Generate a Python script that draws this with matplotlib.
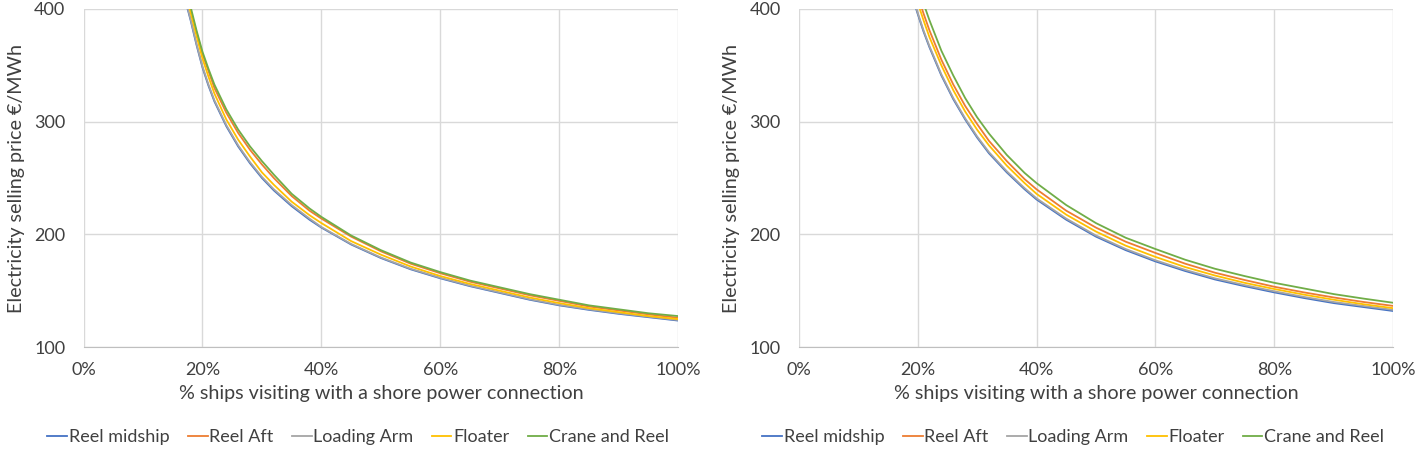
import matplotlib.pyplot as plt
from matplotlib.ticker import PercentFormatter

plt.rcParams['font.family'] = ['Lato', 'DejaVu Sans']

# % ships visiting with a shore power connection
share = [16, 17, 18, 19, 20, 21, 22, 24, 26, 28, 30, 32, 35, 38, 40,
         45, 50, 55, 60, 65, 70, 75, 80, 85, 90, 95, 100]

series_names = ['Reel midship', 'Reel Aft', 'Loading Arm', 'Floater', 'Crane and Reel']
colors = ['#4472C4', '#ED7D31', '#A5A5A5', '#FFC000', '#70AD47']

# left panel, electricity selling price EUR/MWh
left_midship = [432, 410, 390, 368, 348, 332, 318, 296, 278, 263, 250, 239, 225, 213, 206,
                191, 179, 169, 161, 154, 148, 142, 137, 133, 129.5, 126.5, 123.5]
left_aft = [443, 421, 399, 379, 360, 345, 330, 308, 290, 275, 262, 250, 234, 221, 214,
            198, 185, 174, 165.5, 158, 152, 146, 141, 136, 132.5, 129, 126]
left_arm = [433, 411, 391, 369, 349, 333, 319, 297, 279, 264, 251, 240, 226, 214, 206.5,
            191.5, 179.5, 169.5, 161.5, 154.5, 148.5, 142.5, 137.5, 133.5, 130, 127, 124]
left_floater = [440, 418, 397, 376, 356, 340, 325, 302, 284, 269, 255, 244, 229, 217, 210,
                194, 182, 171.5, 163, 156, 150, 144, 139, 134.5, 131, 127.5, 124.8]
left_crane = [446, 424, 402, 381, 362, 347, 333, 311, 293, 278, 265, 253, 236, 223, 215.5,
              199, 186, 175, 166.5, 159, 153, 147, 142, 137, 133.5, 130, 127.5]

# right panel
right_midship = [478, 454, 433, 413, 396, 380, 366, 341, 320, 302, 286, 272, 255, 240, 231,
                 213, 198, 186, 176, 167.5, 160, 154, 148.5, 143.5, 139, 135.5, 132]
right_aft = [499, 473, 451, 431, 412, 396, 381, 355, 333, 314, 298, 283, 265, 249, 240,
             221, 206, 193.5, 183.5, 174, 166, 159.5, 153.5, 148.5, 144, 140, 136.5]
right_arm = [479, 455, 434, 414, 397, 381, 367, 342, 321, 303, 287, 273, 256, 241, 232,
             214, 199, 187, 177, 168.5, 161, 155, 149.5, 144.5, 140, 136.5, 133]
right_floater = [491, 466, 444, 424, 406, 390, 375, 350, 328, 309, 293, 279, 261, 245.5, 236,
                 217.5, 202.5, 190, 180, 171, 163.5, 157, 151.5, 146.5, 142, 138, 134.5]
right_crane = [510, 484, 461, 441, 422, 405, 390, 363, 341, 321, 304, 289.5, 270.5, 254.5, 245.5,
               226, 210, 197, 187, 177.5, 169.5, 163, 157, 152, 147, 143, 139.3]

panels = [[left_midship, left_aft, left_arm, left_floater, left_crane],
          [right_midship, right_aft, right_arm, right_floater, right_crane]]

fig = plt.figure(figsize=(14.16, 4.49), dpi=100)
axes = [fig.add_axes([0.059, 0.227, 0.420, 0.753]),
        fig.add_axes([0.564, 0.227, 0.420, 0.753])]

for ax, data in zip(axes, panels):
    for name, vals, c in zip(series_names, data, colors):
        ax.plot(share, vals, color=c, lw=1.3, label=name)
    ax.set_xlim(0, 100)
    ax.set_ylim(100, 400)
    ax.set_xticks(range(0, 101, 20))
    ax.set_yticks([100, 200, 300, 400])
    ax.xaxis.set_major_formatter(PercentFormatter(decimals=0))
    ax.grid(True, color='#d9d9d9', lw=1)
    ax.set_axisbelow(True)
    for s in ['top', 'right', 'left']:
        ax.spines[s].set_visible(False)
    ax.spines['bottom'].set_color('#bfbfbf')
    ax.tick_params(length=0, labelsize=13, colors='#404040', pad=11)
    ax.tick_params(axis='y', pad=13)
    ax.set_xlabel('% ships visiting with a shore power connection', fontsize=14.2, color='#404040', labelpad=5)
    ax.set_ylabel('Electricity selling price €/MWh', fontsize=14.2, color='#404040', labelpad=7)
    ax.legend(loc='center', bbox_to_anchor=(0.462, -0.266), ncol=5, frameon=False,
              fontsize=13, handlelength=1.1, handletextpad=0.1, columnspacing=1.0,
              labelcolor='#404040')

fig.savefig('out.png', dpi=100)
